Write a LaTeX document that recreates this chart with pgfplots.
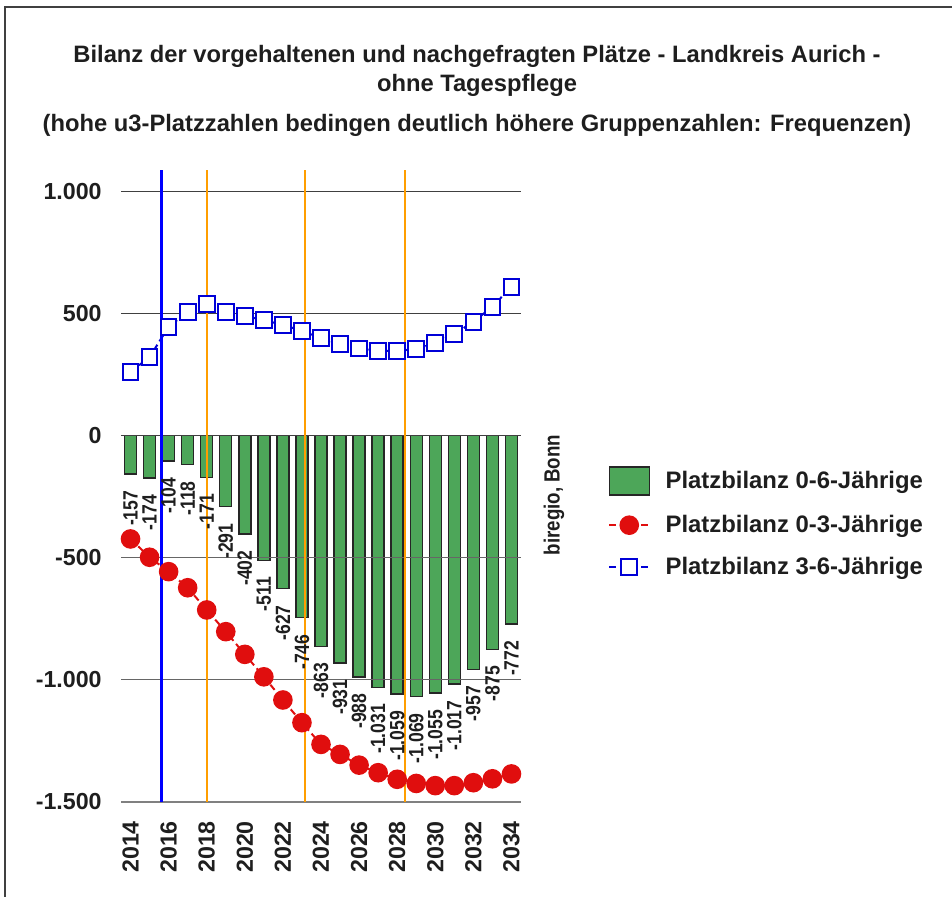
\documentclass[border=0pt]{standalone}
\usepackage{pgfplots}
\pgfplotsset{compat=1.18}
\usepackage{fontspec}
\setmainfont{Liberation Sans}
\newfontfamily\condfont[FakeStretch=0.85]{Liberation Sans}

\definecolor{barGreen}{RGB}{77,166,89}
\definecolor{dotRed}{RGB}{224,14,14}
\definecolor{sqBlue}{RGB}{0,0,215}
\definecolor{lineBlue}{RGB}{0,0,255}
\definecolor{lineOrange}{RGB}{255,158,0}
\definecolor{txt}{RGB}{30,30,30}

\pgfplotsset{
  boxlegend/.style={legend image code/.code={\draw[##1] (0pt,-10.5pt) rectangle (30pt,10.5pt);}},
  marklegend/.style={legend image code/.code={\draw[##1, mark repeat=2, mark phase=2] plot coordinates {(0pt,0pt) (15pt,0pt) (30pt,0pt)};}},
}

\begin{document}
\begin{tikzpicture}[x=0.75pt,y=0.75pt]
\useasboundingbox (0,0) rectangle (952,896);
% frame
\draw[black!75, line width=1.5pt] (5,-5) -- (5,888.5) -- (960,888.5);

% title
\node[anchor=base, text=txt, font=\fontsize{17.8}{17.8}\selectfont\bfseries] at (477,833)
  {Bilanz der vorgehaltenen und nachgefragten Plätze - Landkreis Aurich -};
\node[anchor=base, text=txt, font=\fontsize{17.8}{17.8}\selectfont\bfseries] at (477,804)
  {ohne Tagespflege};
\node[anchor=base, text=txt, font=\fontsize{17.8}{17.8}\selectfont\bfseries] at (477,764.3)
  {(hohe u3-Platzzahlen bedingen deutlich höhere Gruppenzahlen: Frequenzen)};

% source
\node[rotate=90, text=txt, font=\condfont\fontsize{16.5}{16.5}\selectfont\bfseries] at (554,401) {biregio, Bonn};

\begin{axis}[
  at={(90.75pt,70.7pt)}, anchor=south west,
  scale only axis, width=300pt, height=475.8pt,
  xmin=2013.5, xmax=2034.5, ymin=-1500, ymax=1100,
  axis line style={draw=none},
  major tick length=0pt,
  clip=false,
  xtick={2014,2016,...,2034},
  xticklabels={2014,2016,2018,2020,2022,2024,2026,2028,2030,2032,2034},
  ytick={-1500,-1000,-500,0,500,1000},
  yticklabels={-1.500,-1.000,-500,0,500,1.000},
  tick label style={font=\fontsize{17.4}{17.4}\selectfont\bfseries, text=txt},
  xticklabel style={rotate=90, anchor=east},
  xticklabel shift=11pt,
  yticklabel shift=11pt,
  legend style={at={(1.2175,0.529)}, anchor=north west, draw=none, fill=none,
    font=\fontsize{17.9}{17.9}\selectfont\bfseries, text=txt,
    row sep=12.75pt, inner sep=0pt,
    /tikz/every odd column/.append style={column sep=9.5pt}},
  legend cell align=left,
]
% bars
\addplot[ybar, bar width=9pt, fill=barGreen, draw=black!85, line width=1.1pt,
  nodes near coords, point meta=explicit symbolic,
  every node near coord/.append style={yshift=-12pt, rotate=90, anchor=east,
    inner sep=0pt, text=txt, font=\condfont\fontsize{15.5}{15.5}\selectfont\bfseries},
  boxlegend]
coordinates {
  (2014,-157) [-157] (2015,-174) [-174] (2016,-104) [-104] (2017,-118) [-118]
  (2018,-171) [-171] (2019,-291) [-291] (2020,-402) [-402] (2021,-511) [-511]
  (2022,-627) [-627] (2023,-746) [-746] (2024,-863) [-863] (2025,-931) [-931]
  (2026,-988) [-988] (2027,-1031) [-1.031] (2028,-1059) [-1.059] (2029,-1069) [-1.069]
  (2030,-1055) [-1.055] (2031,-1017) [-1.017] (2032,-957) [-957] (2033,-875) [-875]
  (2034,-772) [-772]
};
\addlegendentry{Platzbilanz 0-6-Jährige}

% grid lines
\addplot[black!75, line width=0.8pt, forget plot] coordinates {(2013.5,1000) (2034.5,1000)};
\addplot[black!75, line width=0.8pt, forget plot] coordinates {(2013.5,500) (2034.5,500)};
\addplot[black!75, line width=0.8pt, forget plot] coordinates {(2013.5,0) (2034.5,0)};
\addplot[black!60, line width=0.8pt, forget plot] coordinates {(2013.5,-500) (2034.5,-500)};
\addplot[black!60, line width=0.8pt, forget plot] coordinates {(2013.5,-1000) (2034.5,-1000)};
\addplot[black!50, line width=1.5pt, forget plot] coordinates {(2013.5,-1500) (2034.5,-1500)};

% 0-3
\addplot[dotRed, line width=1.5pt, dash pattern=on 5pt off 3pt,
  mark=*, mark size=6.6pt, mark options={solid, fill=dotRed, draw=dotRed},
  marklegend]
coordinates {
  (2014,-423) (2015,-498) (2016,-557) (2017,-623) (2018,-714) (2019,-803)
  (2020,-896) (2021,-988) (2022,-1083) (2023,-1176) (2024,-1265) (2025,-1306)
  (2026,-1350) (2027,-1381) (2028,-1408) (2029,-1425) (2030,-1434) (2031,-1434)
  (2032,-1422) (2033,-1406) (2034,-1386)
};
\addlegendentry{Platzbilanz 0-3-Jährige}

% 3-6
\addplot[sqBlue, line width=1.5pt, dash pattern=on 5pt off 3pt,
  mark=square*, mark size=5.9pt, mark options={solid, fill=white, draw=sqBlue},
  marklegend]
coordinates {
  (2014,262) (2015,322) (2016,447) (2017,507) (2018,540) (2019,508)
  (2020,491) (2021,474) (2022,454) (2023,430) (2024,400) (2025,376)
  (2026,357) (2027,348) (2028,348) (2029,355) (2030,380) (2031,417)
  (2032,467) (2033,529) (2034,611)
};
\addlegendentry{Platzbilanz 3-6-Jährige}

% vertical markers
\addplot[lineBlue, line width=2.3pt, forget plot] coordinates {(2015.64,-1500) (2015.64,1090)};
\addplot[lineOrange, line width=1.5pt, forget plot] coordinates {(2018.0,-1500) (2018.0,1090)};
\addplot[lineOrange, line width=1.5pt, forget plot] coordinates {(2023.18,-1500) (2023.18,1090)};
\addplot[lineOrange, line width=1.5pt, forget plot] coordinates {(2028.42,-1500) (2028.42,1090)};
\end{axis}
\end{tikzpicture}
\end{document}
